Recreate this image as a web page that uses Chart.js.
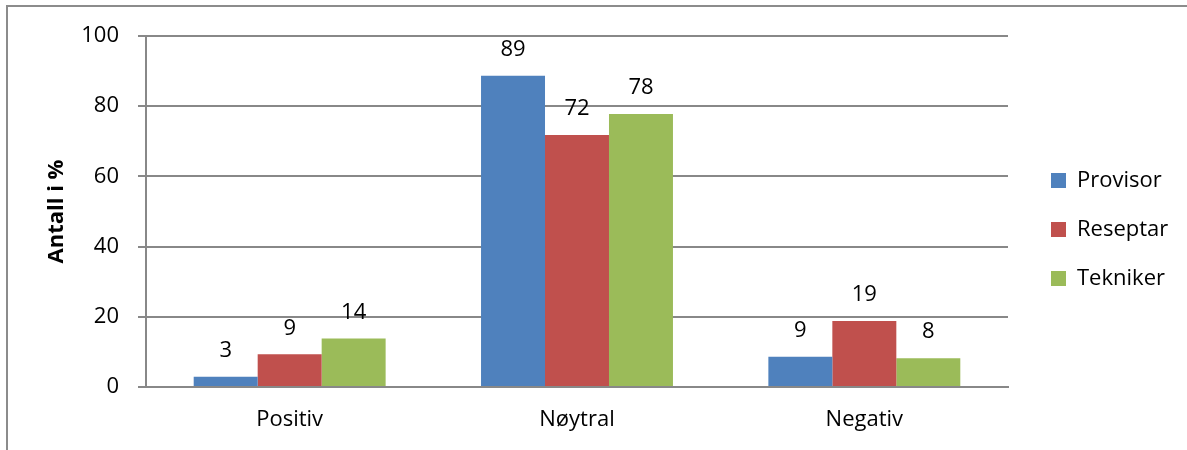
<!DOCTYPE html>
<html>
<head>
<meta charset="utf-8">
<script src="https://cdn.jsdelivr.net/npm/chart.js@4"></script>
<style>
  html, body { margin: 0; padding: 0; background: #fff; }
  #wrap { position: relative; width: 1187px; height: 450px; overflow: hidden; }
  #frame { position: absolute; left: 6px; top: 5px; width: 1300px; height: 600px;
           border-left: 2px solid #8c8c8c; border-top: 2px solid #8c8c8c; }
  canvas { position: absolute; left: 0; top: 0; }
</style>
</head>
<body>
<div id="wrap">
  <div id="frame"></div>
  <canvas id="chart" width="1187" height="450"></canvas>
</div>
<script>
const categories = ['Positiv', 'Nøytral', 'Negativ'];
const provisor = [2.9, 88.7, 8.6];
const reseptar = [9.3, 71.8, 18.8];
const tekniker = [13.8, 77.8, 8.2];
const yTicks = [0, 20, 40, 60, 80, 100];

const font = { family: '"Open Sans", sans-serif', size: 22 };

// value labels above each bar
const barLabels = {
    id: 'barLabels',
    afterDatasetsDraw(chart) {
        const ctx = chart.ctx;
        ctx.save();
        ctx.font = '22px "Open Sans", sans-serif';
        ctx.fillStyle = '#000';
        ctx.textAlign = 'center';
        ctx.textBaseline = 'middle';
        chart.data.datasets.forEach((ds, i) => {
            chart.getDatasetMeta(i).data.forEach((bar, j) => {
                ctx.fillText(String(Math.round(ds.data[j])), bar.x, bar.y - 26);
            });
        });
        ctx.restore();
    }
};

// legend sits a bit away from the plot, like the original
const legendShift = {
    id: 'legendShift',
    beforeLayout(chart) {
        const lg = chart.legend;
        if (!lg || lg._shifted) return;
        lg._shifted = true;
        const fit = lg.fit, draw = lg.draw;
        lg.fit = function () { fit.call(this); this.width = 179; };
        lg.draw = function () {
            this.left += 16; this.right += 16; this.top -= 5; this.bottom -= 5;
            draw.call(this);
            this.left -= 16; this.right -= 16; this.top += 5; this.bottom += 5;
        };
    }
};

new Chart(document.getElementById('chart'), {
    type: 'bar',
    data: {
        labels: categories,
        datasets: [
            { label: 'Provisor', data: provisor, backgroundColor: '#4F81BD' },
            { label: 'Reseptar', data: reseptar, backgroundColor: '#C0504D' },
            { label: 'Tekniker', data: tekniker, backgroundColor: '#9BBB59' }
        ]
    },
    options: {
        responsive: false,
        animation: false,
        layout: { padding: { left: 7, top: 36, bottom: 17, right: 0 } },
        datasets: { bar: { categoryPercentage: 0.668, barPercentage: 1 } },
        scales: {
            x: {
                afterFit: (scale) => { scale.height = 46; },
                grid: { display: false, drawTicks: false },
                border: { display: true, color: '#888', width: 2 },
                ticks: { font: font, color: '#000', padding: 20 }
            },
            y: {
                min: 0,
                max: 100,
                afterBuildTicks: (scale) => { scale.ticks = yTicks.map(v => ({ value: v })); },
                afterFit: (scale) => { scale.width = 139; },
                grid: { color: '#888', lineWidth: 2, tickLength: 8 },
                border: { display: true, color: '#888', width: 2 },
                ticks: { font: font, color: '#000', padding: 19 },
                title: {
                    display: true,
                    text: 'Antall i %',
                    color: '#000',
                    font: { family: '"Open Sans", sans-serif', size: 22, weight: 'bold' },
                    padding: { top: 37, bottom: 0 }
                }
            }
        },
        plugins: {
            legend: {
                position: 'right',
                labels: {
                    font: font,
                    color: '#000',
                    boxWidth: 15,
                    boxHeight: 15,
                    padding: 27
                }
            },
            tooltip: { enabled: false }
        }
    },
    plugins: [barLabels, legendShift]
});
</script>
</body>
</html>
